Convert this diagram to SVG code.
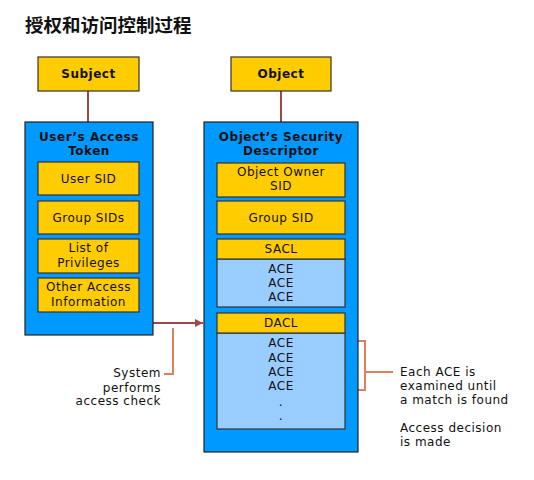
<svg xmlns="http://www.w3.org/2000/svg" width="534" height="480" viewBox="0 0 534 480">
<defs>
<marker id="ah" viewBox="0 0 10 10" refX="10" refY="5" markerWidth="8" markerHeight="8" markerUnits="userSpaceOnUse" orient="auto"><path d="M0,0 L10,5 L0,10 z" fill="#A04848"/></marker>
</defs>
<style>
.y{fill:#FFCC00;stroke:#333;stroke-width:1.2}
.b{fill:#0099FF;stroke:#222;stroke-width:1.2}
.lb{fill:#99CCFF;stroke:#333;stroke-width:1.2}
text{font-family:"DejaVu Sans","Noto Sans CJK SC",sans-serif;font-size:12px;letter-spacing:0.5px;fill:#111;text-anchor:middle;dominant-baseline:central}
.bt{font-weight:bold}
.lt{text-anchor:start}
.rt{text-anchor:end}
.c{stroke:#A04848;stroke-width:2;fill:none}
.o{stroke:#E0805A;stroke-width:2;fill:none}
</style>
<rect width="534" height="480" fill="#fff"/>
<text x="25" y="24" class="lt" style="font-size:18.5px;letter-spacing:0;font-weight:bold;font-family:'Noto Sans CJK SC',sans-serif">授权和访问控制过程</text>
<g id="connectors">
<path class="c" d="M88,91 V122"/>
<path class="c" d="M281,91 V122"/>
<path class="c" d="M153,323 H203" marker-end="url(#ah)"/>
<path class="o" d="M173,328 V374 H164"/>
<path class="o" d="M327,341 H365 V390 H327 M365,372 H393"/>
</g>
<g id="subject"><rect class="y" x="38" y="57" width="101" height="34"/><text class="bt" x="88.5" y="74">Subject</text></g>
<g id="object"><rect class="y" x="231" y="57" width="100" height="34"/><text class="bt" x="281" y="74">Object</text></g>
<g id="token">
<rect class="b" x="25" y="122" width="128" height="213"/>
<text class="bt" x="89" y="137">User’s Access</text>
<text class="bt" x="89" y="151">Token</text>
</g>
<g id="user-sid"><rect class="y" x="38" y="162" width="101" height="33"/><text x="88.5" y="178.5">User SID</text></g>
<g id="group-sids"><rect class="y" x="38" y="201" width="101" height="33"/><text x="88.5" y="217.5">Group SIDs</text></g>
<g id="privileges"><rect class="y" x="38" y="239" width="101" height="34"/><text x="88.5" y="248">List of</text><text x="88.5" y="263">Privileges</text></g>
<g id="other"><rect class="y" x="38" y="278" width="101" height="34"/><text x="88.5" y="287">Other Access</text><text x="88.5" y="302">Information</text></g>
<g id="sd">
<rect class="b" x="204" y="122" width="154" height="330"/>
<text class="bt" x="281" y="137">Object’s Security</text>
<text class="bt" x="281" y="151">Descriptor</text>
</g>
<g id="owner-sid"><rect class="y" x="217" y="163" width="128" height="34"/><text x="281" y="172">Object Owner</text><text x="281" y="186">SID</text></g>
<g id="group-sid"><rect class="y" x="217" y="201" width="128" height="33"/><text x="281" y="217.5">Group SID</text></g>
<g id="sacl">
<rect class="lb" x="217" y="259" width="128" height="48"/>
<rect class="y" x="217" y="239" width="128" height="20"/>
<text x="281" y="249">SACL</text>
<text x="281" y="269">ACE</text><text x="281" y="283">ACE</text><text x="281" y="297">ACE</text>
</g>
<g id="dacl">
<rect class="lb" x="217" y="333" width="128" height="96"/>
<rect class="y" x="217" y="313" width="128" height="20"/>
<text x="281" y="323">DACL</text>
<text x="281" y="343">ACE</text><text x="281" y="357.5">ACE</text><text x="281" y="372">ACE</text><text x="281" y="386">ACE</text>
<text x="281" y="402">.</text><text x="281" y="416">.</text>
</g>
<g id="note-check">
<text class="rt" x="161" y="373">System</text>
<text class="rt" x="161" y="387.5">performs</text>
<text class="rt" x="161" y="401">access check</text>
</g>
<g id="note-ace">
<text class="lt" x="400" y="371.5">Each ACE is</text>
<text class="lt" x="400" y="385.5">examined until</text>
<text class="lt" x="400" y="399.5">a match is found</text>
<text class="lt" x="400" y="428">Access decision</text>
<text class="lt" x="400" y="442">is made</text>
</g>
</svg>
